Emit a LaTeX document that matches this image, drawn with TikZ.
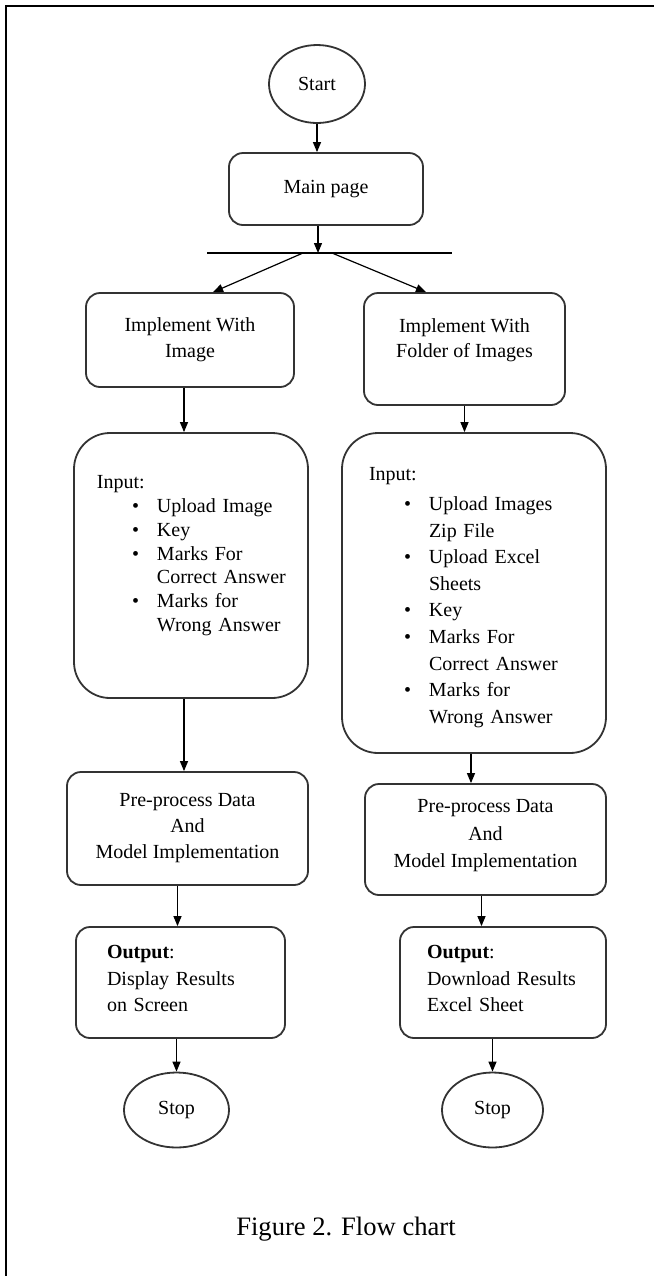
\documentclass[tikz,border=0pt]{standalone}
\usepackage{fontspec}
\setmainfont{Liberation Serif}
\usetikzlibrary{arrows.meta, positioning, calc, shapes.geometric}
\definecolor{boxline}{HTML}{333333}
\newcommand{\listbullet}{\hspace*{17.5pt}\makebox[12.5pt][l]{\textbullet}}
\newcommand{\listindent}{\hspace*{30pt}}

\begin{document}
\begin{tikzpicture}[x=0.5pt, y=-0.5pt,
    terminal/.style={draw=boxline, line width=0.9pt, ellipse, inner sep=0pt, font=\fontsize{10}{12}\selectfont},
    stepbox/.style={draw=boxline, line width=0.9pt, rounded corners=7pt, align=center, inner sep=0pt, font=\fontsize{10}{12.8}\selectfont},
    listbox/.style={draw=boxline, line width=0.9pt, rounded corners=18pt, align=left, inner ysep=0pt},
    arr/.style={-{Triangle[length=5pt, width=4pt]}, line width=0.6pt}]
  \useasboundingbox (0,0) rectangle (654,1276);

  % Frame
  \draw[line width=1pt] (6,1276) -- (6,6) -- (654,6);

  % Top
  \node[terminal, minimum width=48pt, minimum height=39pt] (start) at (317,84) {Start};
  \node[stepbox, minimum width=97pt, minimum height=36pt] (main) at (326,189) {Main page};
  \coordinate (hub) at (318,253);
  \coordinate (hubL) at (303,253);
  \coordinate (hubR) at (332,253);
  \coordinate (barL) at (207,253);
  \coordinate (barR) at (452,253);

  % Two branches
  \node[stepbox, minimum width=104pt, minimum height=47pt] (implL) at (190,340)
    {Implement With\\Image};
  \node[stepbox, minimum width=100.5pt, minimum height=56pt] (implR) at (464.5,349)
    {Implement With\\Folder of Images\rule[-11pt]{0pt}{0pt}};

  \node[listbox, text width=94pt, inner xsep=11.5pt, minimum height=132.5pt,
        font=\fontsize{10}{11.9}\selectfont] (inL) at (191,565.5)
    {Input:\\
     \listbullet\mbox{Upload Image}\\
     \listbullet Key\\
     \listbullet\mbox{Marks For}\\
     \listindent\mbox{Correct Answer}\\
     \listbullet\mbox{Marks for}\\
     \listindent\mbox{Wrong Answer}\rule[-12pt]{0pt}{0pt}};
  \node[listbox, text width=105pt, inner xsep=13.5pt, minimum height=160pt,
        font=\fontsize{10}{13.3}\selectfont] (inR) at (474,593)
    {\rule{0pt}{11pt}Input:\\[1.7pt]
     \listbullet\mbox{Upload Images}\\
     \listindent\mbox{Zip File}\\
     \listbullet\mbox{Upload Excel}\\
     \listindent Sheets\\
     \listbullet Key\\
     \listbullet\mbox{Marks For}\\
     \listindent\mbox{Correct Answer}\\
     \listbullet\mbox{Marks for}\\
     \listindent\mbox{Wrong Answer}};

  \node[stepbox, minimum width=120.5pt, minimum height=56.5pt, font=\fontsize{10}{13}\selectfont]
    (preL) at (187.5,828.5) {Pre-process Data\\And\\Model Implementation};
  \node[stepbox, minimum width=120.5pt, minimum height=55.5pt, font=\fontsize{10}{13.6}\selectfont]
    (preR) at (485.5,839.5) {Pre-process Data\\And\\Model Implementation\rule[-6pt]{0pt}{0pt}};

  \node[stepbox, align=left, text width=73.5pt, inner xsep=15.5pt, minimum height=55.5pt,
        font=\fontsize{10}{13.2}\selectfont] (outL) at (180.5,982.5)
    {\textbf{Output}:\\\mbox{Display Results}\\\mbox{on Screen}\rule[-4pt]{0pt}{0pt}};
  \node[stepbox, align=left, text width=76pt, inner xsep=13.5pt, minimum height=55.5pt,
        font=\fontsize{10}{13.2}\selectfont] (outR) at (503,982.5)
    {\textbf{Output}:\\\mbox{Download Results}\\\mbox{Excel Sheet}\rule[-4pt]{0pt}{0pt}};

  \node[terminal, minimum width=52.5pt, minimum height=37.5pt] (stopL) at (176.5,1110) {Stop};
  \node[terminal, minimum width=50.5pt, minimum height=37.5pt] (stopR) at (492.5,1110) {Stop};

  \node[font=\fontsize{13.3}{16}\selectfont] (caption) at (346,1229) {Figure 2. Flow chart};

  % Connectors
  \draw[arr] (start.south) -- (start.south |- main.north);
  \draw[arr] (hub |- main.south) -- (hub);
  \draw[line width=0.6pt] (barL) -- (barR);
  \draw[arr] (hubL) -- ($(implL.north west)!0.61!(implL.north east)$);
  \draw[arr] (hubR) -- ($(implR.north west)!0.31!(implR.north east)$);
  \foreach \a/\b/\dx in {implL/inL/-3pt, implR/inR/0pt, inL/preL/-3.5pt,
                         inR/preR/-1.5pt, preL/outL/-5pt, preR/outR/-2pt}
    \draw[arr] ([xshift=\dx]\a.south) -- ([xshift=\dx]\a.south |- \b.north);
  \draw[arr] (stopL.north |- outL.south) -- (stopL.north);
  \draw[arr] (stopR.north |- outR.south) -- (stopR.north);
\end{tikzpicture}
\end{document}
